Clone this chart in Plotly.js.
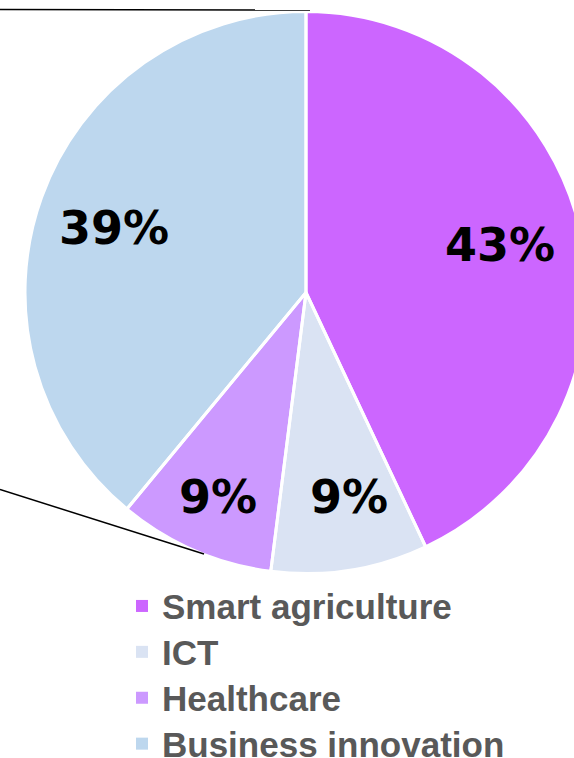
<!DOCTYPE html>
<html>
<head>
<meta charset="utf-8">
<script src="https://cdn.plot.ly/plotly-3.0.1.min.js"></script>
<style>
html, body { margin: 0; padding: 0; background: #ffffff; overflow: hidden; }
#chart { width: 620px; height: 758px; }
</style>
</head>
<body>
<div id="chart"></div>
<script>
// ---- data ----
var categories = ["Smart agriculture", "ICT", "Healthcare", "Business innovation"];
var values = [43, 9, 9, 39];
var colors = ["#CC66FF", "#DAE3F3", "#CC99FF", "#BDD7EE"];

// ---- layout helpers (pixel positions inside a 620x758 canvas) ----
var W = 620, H = 758;
var labelPx = [[500, 245], [349, 497], [218, 497], [114, 228]];
function px(x) { return x / W; }
function py(y) { return 1 - y / H; }
var pieDomain = { x: [px(25), px(587)], y: [py(573.5), py(11.5)] };

// main pie (fills, drives the legend)
var trace = {
  type: "pie",
  labels: categories.map(function (c) { return '<span style="font-size:35px">' + c + '</span>'; }),
  values: values,
  sort: false,
  direction: "clockwise",
  rotation: 0,
  textinfo: "none",
  hoverinfo: "skip",
  marker: { colors: colors, line: { width: 0 } },
  domain: pieDomain
};

// overlay with white slice borders only
var borders = {
  type: "pie",
  labels: categories,
  values: values,
  sort: false,
  direction: "clockwise",
  rotation: 0,
  textinfo: "none",
  hoverinfo: "skip",
  showlegend: false,
  marker: { colors: values.map(function () { return "rgba(0,0,0,0)"; }), line: { color: "#ffffff", width: 3 } },
  domain: pieDomain
};

var annotations = values.map(function (v, i) {
  return {
    xref: "paper", yref: "paper",
    x: px(labelPx[i][0]), y: py(labelPx[i][1]),
    xanchor: "center", yanchor: "middle",
    text: v + "%",
    showarrow: false,
    font: { family: "DejaVu Sans", size: 46, color: "#000000", weight: "bold" }
  };
});

var shapes = [
  { type: "line", xref: "paper", yref: "paper", x0: px(0), y0: py(9.5), x1: px(310), y1: py(10),
    line: { color: "#000000", width: 1.5 } },
  { type: "line", xref: "paper", yref: "paper", x0: px(0), y0: py(489.5), x1: px(204), y1: py(554),
    line: { color: "#000000", width: 1.5 } }
];

var layout = {
  width: W, height: H,
  margin: { l: 0, r: 0, t: 0, b: 0, autoexpand: false },
  paper_bgcolor: "#ffffff",
  showlegend: true,
  legend: {
    x: px(122), y: py(578), xanchor: "left", yanchor: "top",
    bgcolor: "rgba(0,0,0,0)",
    font: { family: "Liberation Sans, Arial, sans-serif", size: 33, color: "#595959", weight: "bold" },
    traceorder: "normal"
  },
  annotations: annotations,
  shapes: shapes
};

Plotly.newPlot("chart", [trace, borders], layout, { displayModeBar: false, staticPlot: true });
</script>
</body>
</html>
